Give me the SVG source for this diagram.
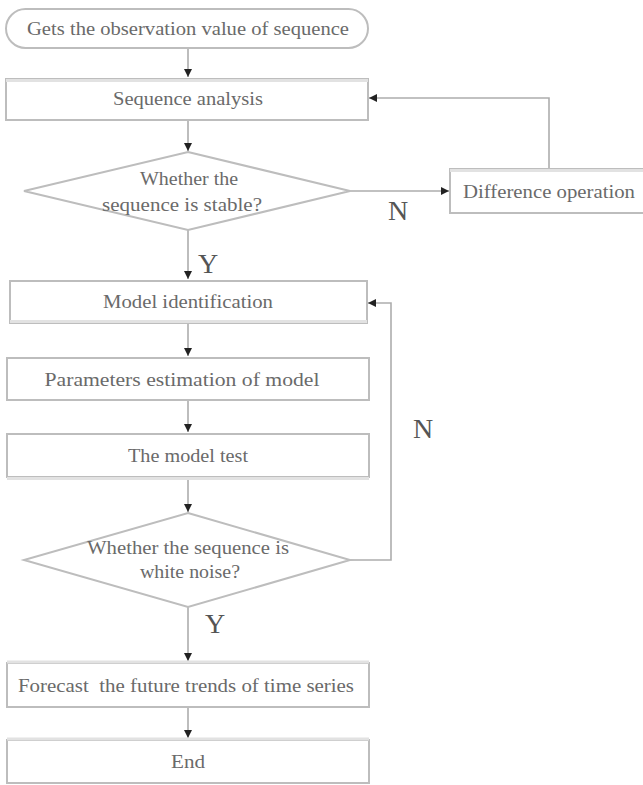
<svg xmlns="http://www.w3.org/2000/svg" width="643" height="785" viewBox="0 0 643 785">
<style>
  .box { fill: #fff; stroke: #bdbdbd; stroke-width: 2; }
  .band { fill: none; stroke: #e2e2e2; stroke-width: 3; }
  .lbl { font-family: "Liberation Serif", "Times New Roman", serif; font-size: 18px; fill: #6a6a6a; text-anchor: middle; dominant-baseline: central; }
  .yn { font-family: "Liberation Serif", "Times New Roman", serif; font-size: 28px; fill: #555; text-anchor: middle; dominant-baseline: central; }
  .edge { fill: none; stroke: #adadad; stroke-width: 1.6; }
</style>
<defs>
  <marker id="arr" viewBox="0 0 10 10" refX="10" refY="5" markerWidth="8" markerHeight="8" markerUnits="userSpaceOnUse" orient="auto">
    <path d="M0,0 L10,5 L0,10 z" fill="#222"/>
  </marker>
</defs>
<rect width="643" height="785" fill="#fff"/>

<g id="edges">
  <line class="edge" x1="188" y1="48" x2="188" y2="77" marker-end="url(#arr)"/>
  <line class="edge" x1="188" y1="120" x2="188" y2="151" marker-end="url(#arr)"/>
  <line class="edge" x1="188" y1="230" x2="188" y2="279" marker-end="url(#arr)"/>
  <line class="edge" x1="350" y1="191" x2="449" y2="191" marker-end="url(#arr)"/>
  <polyline class="edge" points="549,168 549,98 369,98" marker-end="url(#arr)"/>
  <line class="edge" x1="188" y1="323" x2="188" y2="356" marker-end="url(#arr)"/>
  <line class="edge" x1="188" y1="400" x2="188" y2="432" marker-end="url(#arr)"/>
  <line class="edge" x1="188" y1="477" x2="188" y2="512" marker-end="url(#arr)"/>
  <polyline class="edge" points="350,560 391,560 391,303 368,303" marker-end="url(#arr)"/>
  <line class="edge" x1="188" y1="607" x2="188" y2="661" marker-end="url(#arr)"/>
  <line class="edge" x1="188" y1="707" x2="188" y2="738" marker-end="url(#arr)"/>
  <text class="yn" x="208" y="263">Y</text>
  <text class="yn" x="398" y="210">N</text>
  <text class="yn" x="423" y="428">N</text>
  <text class="yn" x="215" y="623">Y</text>
</g>

<g id="start">
  <rect class="box" x="6" y="9" width="362" height="39" rx="19.5" ry="19.5"/>
  <text class="lbl" x="188" y="29" textLength="322" lengthAdjust="spacingAndGlyphs">Gets the observation value of sequence</text>
</g>

<g id="seq-analysis">
  <rect class="box" x="6" y="79" width="362" height="41"/>
  <line class="band" x1="6" y1="80.5" x2="368" y2="80.5"/>
  <text class="lbl" x="188" y="99" textLength="150" lengthAdjust="spacingAndGlyphs">Sequence analysis</text>
</g>

<g id="stable">
  <polygon class="box" points="188,152 350,191 188,230 24,191"/>
  <text class="lbl" x="189" y="179" textLength="98" lengthAdjust="spacingAndGlyphs">Whether the</text>
  <text class="lbl" x="182" y="205" textLength="160" lengthAdjust="spacingAndGlyphs">sequence is stable?</text>
</g>

<g id="difference">
  <rect class="box" x="450" y="169" width="200" height="44"/>
  <line class="band" x1="450" y1="170.5" x2="643" y2="170.5"/>
  <text class="lbl" x="549" y="192" textLength="172" lengthAdjust="spacingAndGlyphs">Difference operation</text>
</g>

<g id="model-id">
  <rect class="box" x="10" y="281" width="357" height="42"/>
  <line class="band" x1="10" y1="321.5" x2="367" y2="321.5"/>
  <text class="lbl" x="188" y="302" textLength="170" lengthAdjust="spacingAndGlyphs">Model identification</text>
</g>

<g id="params">
  <rect class="box" x="7" y="358" width="362" height="42"/>
  <text class="lbl" x="182" y="380" textLength="275" lengthAdjust="spacingAndGlyphs">Parameters estimation of model</text>
</g>

<g id="model-test">
  <rect class="box" x="7" y="434" width="362" height="43"/>
  <line class="band" x1="7" y1="478.5" x2="369" y2="478.5"/>
  <text class="lbl" x="188" y="456" textLength="120" lengthAdjust="spacingAndGlyphs">The model test</text>
</g>

<g id="white-noise">
  <polygon class="box" points="188,513 350,560 188,607 24,560"/>
  <text class="lbl" x="188" y="548" textLength="202" lengthAdjust="spacingAndGlyphs">Whether the sequence is</text>
  <text class="lbl" x="190" y="572" textLength="100" lengthAdjust="spacingAndGlyphs">white noise?</text>
</g>

<g id="forecast">
  <rect class="box" x="7" y="663" width="362" height="44"/>
  <line class="band" x1="7" y1="662" x2="369" y2="662"/>
  <text class="lbl" x="186" y="686" textLength="336" lengthAdjust="spacingAndGlyphs">Forecast&#160; the future trends of time series</text>
</g>

<g id="end">
  <rect class="box" x="7" y="740" width="362" height="43"/>
  <line class="band" x1="7" y1="739" x2="369" y2="739"/>
  <text class="lbl" x="188" y="762" textLength="34" lengthAdjust="spacingAndGlyphs">End</text>
</g>
</svg>
